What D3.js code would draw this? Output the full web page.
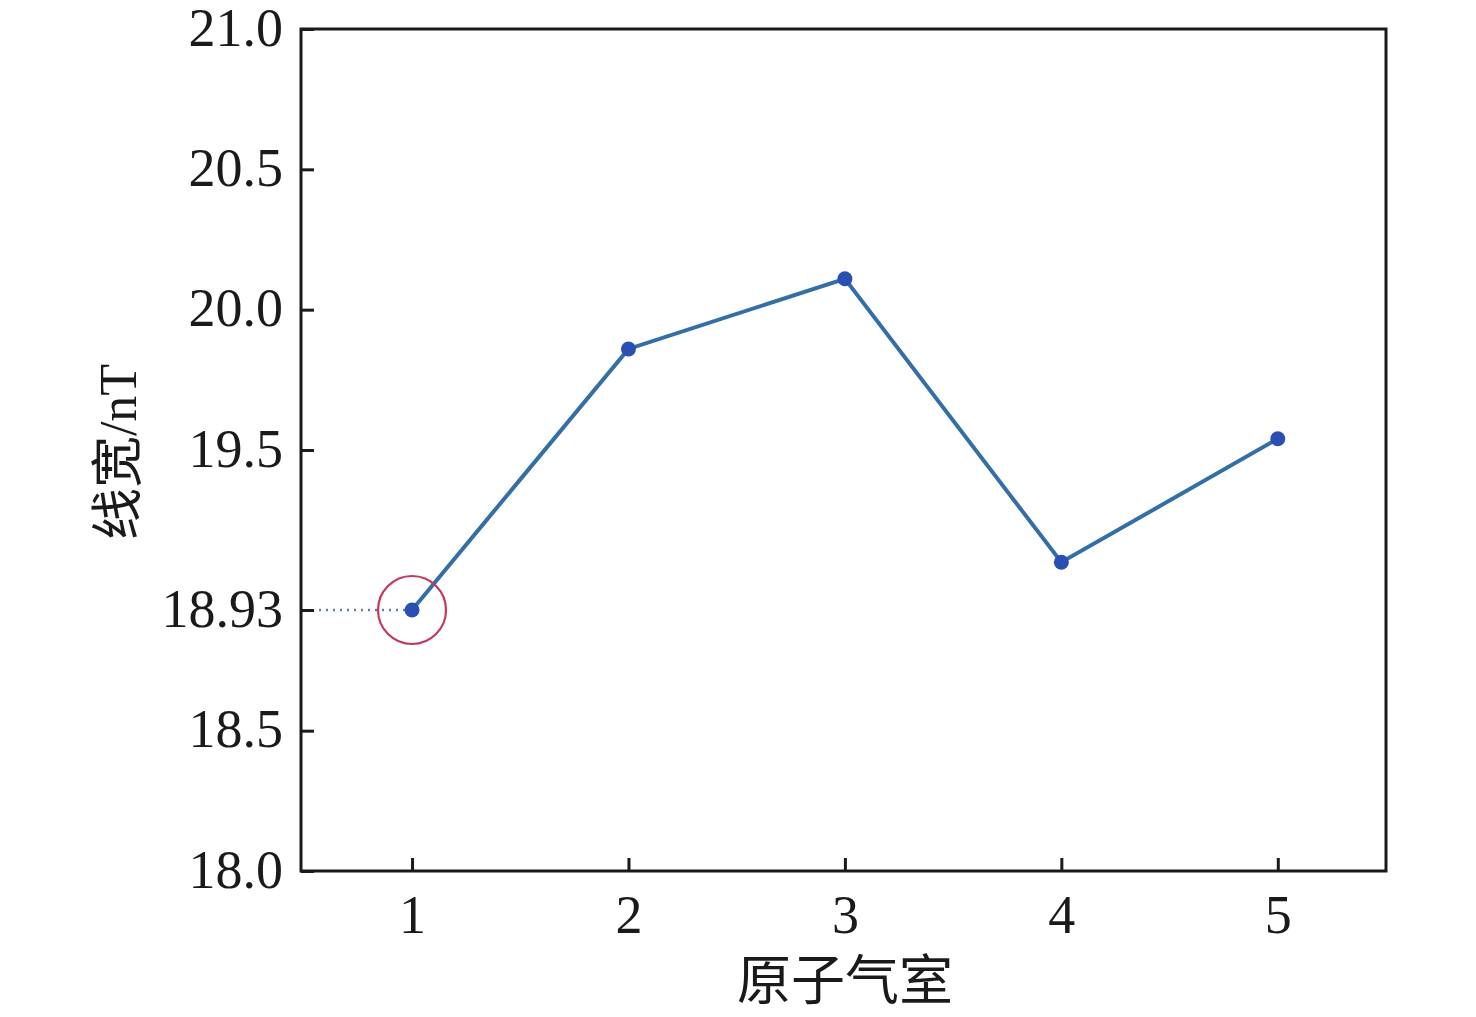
<!DOCTYPE html>
<html>
<head>
<meta charset="utf-8">
<script src="https://cdn.jsdelivr.net/npm/d3@7"></script>
<style>
  body { margin: 0; background: #fff; }
  text { font-family: "Liberation Serif", "Times New Roman", "Noto Sans CJK SC", serif; fill: #1a1a1a; }
</style>
</head>
<body>
<svg id="chart"></svg>
<script>
const cells = [1, 2, 3, 4, 5]
const linewidth = [18.93, 19.86, 20.11, 19.10, 19.54]
const yTicks = [18.0, 18.5, 18.93, 19.5, 20.0, 20.5, 21.0]
const xTitle = "原子气室"
const yTitle = "线宽/nT"

const width = 1476
const height = 1017
const margin = { top: 29, right: 90, bottom: 146, left: 301 }

const svg = d3.select("#chart")
  .attr("width", width)
  .attr("height", height)

const x = d3.scaleLinear()
  .domain([0.487, 5.5])
  .range([margin.left, width - margin.right])

const y = d3.scaleLinear()
  .domain([18, 21])
  .range([height - margin.bottom, margin.top])

// frame
svg.append("rect")
  .attr("x", margin.left)
  .attr("y", margin.top)
  .attr("width", width - margin.right - margin.left)
  .attr("height", height - margin.bottom - margin.top)
  .attr("fill", "none")
  .attr("stroke", "#1a1a1a")
  .attr("stroke-width", 3)

// axes with inward ticks
const xAxis = svg.append("g")
  .attr("transform", `translate(0,${height - margin.bottom})`)
  .call(d3.axisBottom(x).tickValues(cells).tickSize(-13).tickPadding(24).tickFormat(d3.format("d")))
xAxis.select(".domain").remove()
xAxis.selectAll(".tick line").attr("stroke", "#1a1a1a").attr("stroke-width", 3)
xAxis.selectAll(".tick text").attr("font-size", 54).attr("dy", "0.71em")

const yAxis = svg.append("g")
  .attr("transform", `translate(${margin.left},0)`)
  .call(d3.axisLeft(y).tickValues(yTicks).tickSize(-13).tickPadding(18)
    .tickFormat(d => d === 18.93 ? "18.93" : d3.format(".1f")(d)))
yAxis.select(".domain").remove()
yAxis.selectAll(".tick line").attr("stroke", "#1a1a1a").attr("stroke-width", 3)
yAxis.selectAll(".tick text").attr("font-size", 54).attr("dy", "0.3em")

// dotted guide to the minimum
svg.append("line")
  .attr("x1", x(0.487) + 18)
  .attr("x2", x(cells[0]) - 6)
  .attr("y1", y(linewidth[0]))
  .attr("y2", y(linewidth[0]))
  .attr("stroke", "#6a7fa0")
  .attr("stroke-width", 2.5)
  .attr("stroke-dasharray", "2,5")

// line
svg.append("path")
  .datum(cells.map((c, i) => [c, linewidth[i]]))
  .attr("fill", "none")
  .attr("stroke", "#336fa6")
  .attr("stroke-width", 4)
  .attr("d", d3.line().x(d => x(d[0])).y(d => y(d[1])))

// points
svg.append("g")
  .selectAll("circle")
  .data(cells)
  .enter().append("circle")
  .attr("cx", d => x(d))
  .attr("cy", (d, i) => y(linewidth[i]))
  .attr("r", 7.5)
  .attr("fill", "#2a4fb3")

// highlight ring
svg.append("circle")
  .attr("cx", x(cells[0]))
  .attr("cy", y(linewidth[0]))
  .attr("r", 34)
  .attr("fill", "none")
  .attr("stroke", "#c23a5e")
  .attr("stroke-width", 2.2)

// titles
svg.append("text")
  .attr("x", x(3))
  .attr("y", 1000)
  .attr("text-anchor", "middle")
  .attr("font-size", 54)
  .text(xTitle)

svg.append("text")
  .attr("transform", `translate(136,452) rotate(-90)`)
  .attr("text-anchor", "middle")
  .attr("font-size", 52)
  .text(yTitle)
</script>
</body>
</html>
